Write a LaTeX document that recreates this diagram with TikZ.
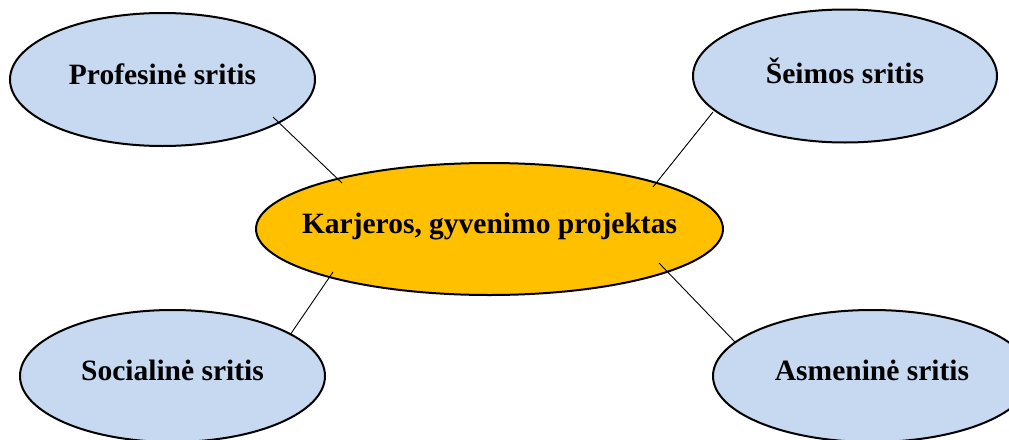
\documentclass[tikz,border=0pt]{standalone}
\usepackage{fontspec}
\setmainfont{Liberation Serif}
\usetikzlibrary{shapes.geometric}
\definecolor{areablue}{HTML}{C6D9F1}
\definecolor{coreorange}{HTML}{FFC000}
\begin{document}
\begin{tikzpicture}[x=1pt,y=-1pt,
  area/.style={ellipse, draw=black, line width=2pt, fill=areablue, inner sep=0pt,
    inner xsep=-40pt, font=\fontsize{29.5}{32}\selectfont\bfseries, text depth=11pt},
  core/.style={area, fill=coreorange},
  link/.style={draw=black, line width=0.9pt}]
\useasboundingbox (0,0) rectangle (1009,439);
\clip (0,0) rectangle (1009,439);
\node[area, minimum width=305pt, minimum height=133pt] (prof) at (162.5,79.5) {Profesinė sritis};
\node[area, minimum width=304pt, minimum height=133pt] (seim) at (845,76) {Šeimos sritis};
\node[area, minimum width=305pt, minimum height=132pt] (soc) at (172.5,376) {Socialinė sritis};
\node[area, minimum width=318pt, minimum height=132pt] (asm) at (872,376) {Asmeninė sritis};
\node[core, minimum width=467pt, minimum height=132pt] (core) at (489.5,229) {Karjeros, gyvenimo projektas};
\draw[link] ([shift={(110.5,37.5)}]prof.center) -- ([shift={(-147.5,-46)}]core.center);
\draw[link] ([shift={(-132,36)}]seim.center) -- ([shift={(163.5,-42)}]core.center);
\draw[link] ([shift={(117.5,-41)}]soc.center) -- ([shift={(-156.5,43)}]core.center);
\draw[link] ([shift={(-137,-34)}]asm.center) -- ([shift={(169.5,34)}]core.center);
\end{tikzpicture}
\end{document}
